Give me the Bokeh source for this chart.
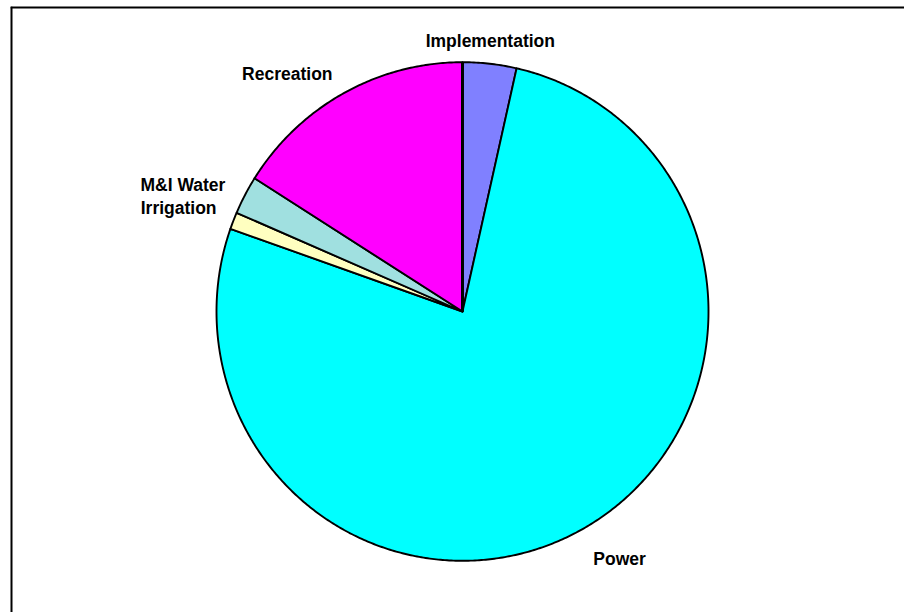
import numpy as np
from bokeh.plotting import figure
from bokeh.models import ColumnDataSource, Range1d, Span
from bokeh.core.properties import value
from bokeh.embed import file_html
from bokeh.resources import INLINE

# ---- data (percent of total) ----
categories = ["Implementation", "Power", "Irrigation", "M&I Water", "Recreation"]
shares = [3.53, 76.85, 1.10, 2.49, 16.03]
colors = ["#8080FF", "#00FFFF", "#FFFFC0", "#A0E0E0", "#FF00FF"]

# ---- label layout (radius factor, angular nudge in degrees) ----
label_r = [1.09, 1.18, 1.226, 1.245, 1.19]
label_shift = [-0.4, -3.8, -1.6, -3.7, -7.9]

W, H = 904, 612
ML, MT = 10, 6
frame_w, frame_h = W - ML, H - MT
cx_px, cy_px = 462 - ML, 311 - MT      # pie centre within frame
rx_px, ry_px = 246.0, 249.3            # pixel radii (1 data unit)

x_range = Range1d(-cx_px / rx_px, (frame_w - cx_px) / rx_px)
y_range = Range1d(-(frame_h - cy_px) / ry_px, cy_px / ry_px)

p = figure(width=W, height=H, x_range=x_range, y_range=y_range,
           output_backend="svg", toolbar_location=None,
           x_axis_location=None, y_axis_location=None,
           min_border_left=ML, min_border_top=MT,
           min_border_right=0, min_border_bottom=0)
p.grid.visible = False
p.outline_line_color = None
p.background_fill_color = "white"
p.border_fill_color = "white"

tot = float(sum(shares))
cum = np.concatenate([[0.0], np.cumsum(shares)]) / tot * 360.0
xs, ys = [], []
for i in range(len(shares)):
    a0, a1 = cum[i], cum[i + 1]
    n = max(4, int((a1 - a0) * 2))
    t = np.radians(np.linspace(a0, a1, n))
    xs.append([0.0] + list(np.sin(t)) + [0.0])
    ys.append([0.0] + list(np.cos(t)) + [0.0])

src = ColumnDataSource(dict(xs=xs, ys=ys, color=colors, name=categories))
p.patches("xs", "ys", source=src, fill_color="color",
          line_color="black", line_width=1.9, line_join="round")

# emphasised start edge (top)
p.segment(x0=[0.0], y0=[0.0], x1=[np.sin(np.radians(cum[0]))],
          y1=[np.cos(np.radians(cum[0]))], line_color="black", line_width=3)

mids = (cum[:-1] + cum[1:]) / 2.0
ang = np.radians(mids + np.array(label_shift))
lx = np.array(label_r) * np.sin(ang)
ly = np.array(label_r) * np.cos(ang)
lsrc = ColumnDataSource(dict(x=lx, y=ly, text=categories))
p.text("x", "y", text="text", source=lsrc, text_align="center",
       text_baseline="middle", text_font=value("Liberation Sans"),
       text_font_style="bold", text_font_size="17.5px", text_color="black")

# chart-area border (left and top visible)
p.add_layout(Span(location=x_range.start, dimension="height",
                  line_color="black", line_width=4))
p.add_layout(Span(location=y_range.end, dimension="width",
                  line_color="black", line_width=4))

open("out.html", "w").write(file_html(p, INLINE))
